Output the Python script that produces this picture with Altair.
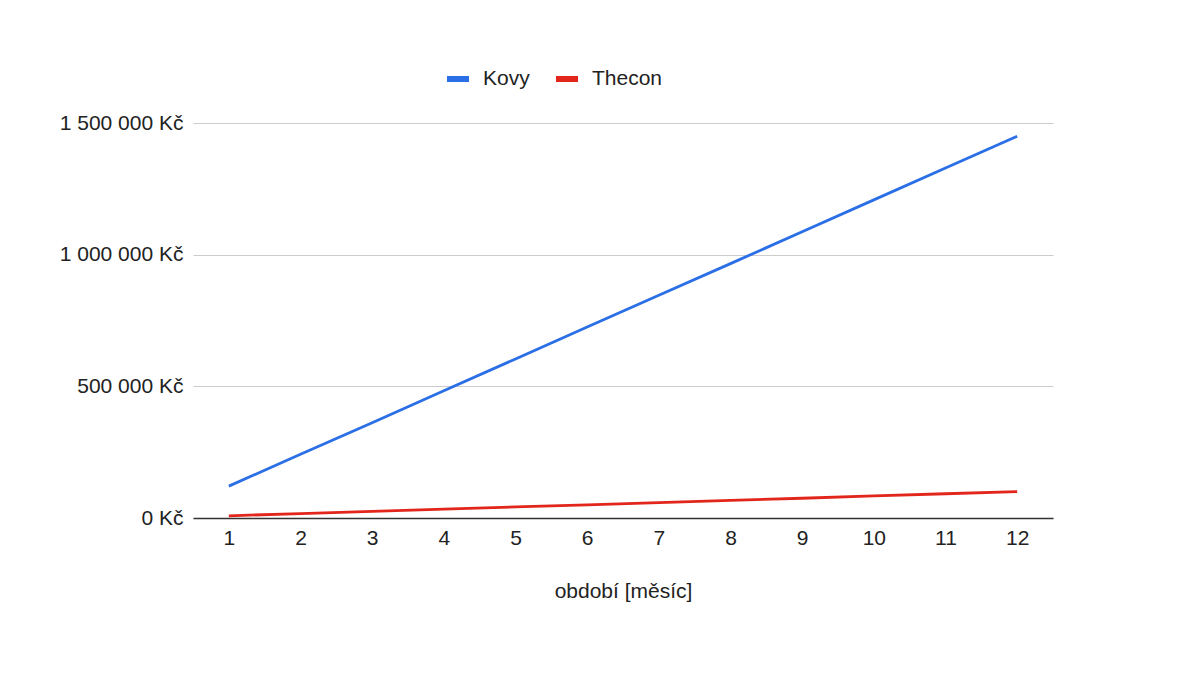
import altair as alt
import pandas as pd

months = [1, 2, 3, 4, 5, 6, 7, 8, 9, 10, 11, 12]
kovy = [121000, 242000, 362000, 483000, 604000, 725000, 846000, 966000, 1087000, 1208000, 1329000, 1450000]
thecon = [8400, 16800, 25000, 33500, 42000, 50000, 58500, 67000, 75000, 84000, 92000, 100000]
series_names = ["Kovy", "Thecon"]
series_colors = ["#2b6fe6", "#e2261c"]
y_ticks = [0, 500000, 1000000, 1500000]

rows = []
for m, v in zip(months, kovy):
    rows.append({"month": m, "value": v, "series": "Kovy"})
for m, v in zip(months, thecon):
    rows.append({"month": m, "value": v, "series": "Thecon"})
df = pd.DataFrame(rows)

FONT = "Liberation Sans"
FS = 21

chart = alt.Chart(df).mark_line(strokeWidth=2.8).encode(
    x=alt.X("month:Q",
            scale=alt.Scale(domain=[0.5, 12.5], nice=False, zero=False),
            axis=alt.Axis(values=months, grid=False, ticks=False, domain=True,
                          domainColor="#333333", domainWidth=1.5,
                          labelFontSize=FS, labelColor="#222222", labelPadding=9,
                          labelFont=FONT, title="období [měsíc]", titleFont=FONT,
                          titleFontSize=FS, titleFontWeight="normal", titleColor="#222222",
                          titlePadding=32, format="d")),
    y=alt.Y("value:Q",
            scale=alt.Scale(domain=[0, 1500000], nice=False),
            axis=alt.Axis(values=y_ticks, grid=True, gridColor="#cccccc", gridWidth=1.2,
                          ticks=False, domain=False, labelFontSize=FS, labelColor="#222222",
                          labelFont=FONT, labelPadding=10, title=None,
                          labelExpr="replace(format(datum.value, ','), regexp(',', 'g'), ' ') + ' Kč'")),
    color=alt.Color("series:N",
                    scale=alt.Scale(domain=series_names, range=series_colors),
                    legend=alt.Legend(title=None, orient="none", direction="horizontal",
                                      legendX=251, legendY=-58,
                                      symbolType="stroke", symbolSize=484, symbolStrokeWidth=6,
                                      labelFontSize=FS, labelFont=FONT, labelColor="#222222",
                                      labelOffset=11, columnPadding=14)),
).properties(
    width=860, height=395,
    autosize=alt.AutoSizeParams(type="none"),
    padding={"left": 185, "top": 115, "right": 117, "bottom": 163},
).configure_view(stroke=None)

chart.save("out.html", embed_options={"renderer": "svg", "actions": False})
